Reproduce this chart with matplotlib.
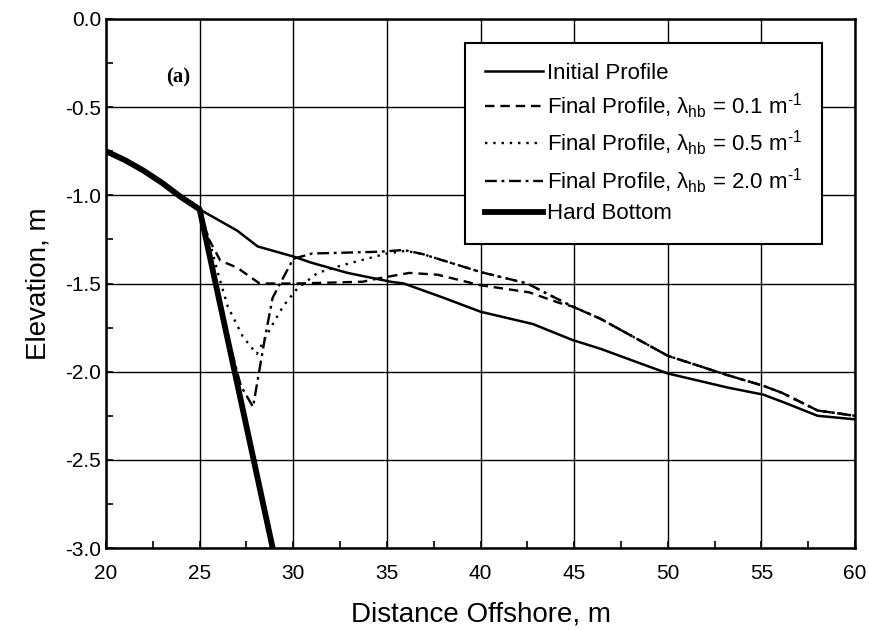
import matplotlib
matplotlib.use('Agg')
import matplotlib.pyplot as plt
from matplotlib.ticker import MultipleLocator

# profile data (distance offshore m, elevation m)
x_init = [20, 21, 22, 23, 24, 25, 27.0, 28.1, 30.1, 30.9, 32.9, 35.2, 35.9, 38.0, 40.0,
          42.8, 44.9, 46.4, 50.0, 53.2, 55.1, 56.1, 58.0, 60.0]
y_init = [-0.75, -0.80, -0.86, -0.93, -1.01, -1.08, -1.20, -1.29, -1.35, -1.38, -1.44, -1.49,
          -1.50, -1.58, -1.66, -1.73, -1.82, -1.87, -2.01, -2.09, -2.13, -2.17, -2.25, -2.27]

x_f01 = [25.0, 25.45, 26.1, 27.0, 28.2, 30.2, 33.7, 34.6, 36.2, 37.7, 40.0, 42.6, 44.2, 44.9,
         46.4, 50.0, 53.2, 55.1, 56.1, 58.0, 60.0]
y_f01 = [-1.08, -1.24, -1.37, -1.41, -1.50, -1.50, -1.49, -1.47, -1.44, -1.45, -1.51, -1.55,
         -1.61, -1.63, -1.70, -1.91, -2.02, -2.08, -2.12, -2.22, -2.25]

x_f05 = [25.0, 25.5, 26.0, 26.5, 27.3, 28.05, 28.8, 29.45, 30.2, 31.3, 32.5, 33.2, 35.0, 36.0,
         36.9, 40.0, 42.5, 43.5, 44.9, 46.4, 50.0, 53.2, 55.1, 56.1, 58.0, 60.0]
y_f05 = [-1.08, -1.25, -1.45, -1.63, -1.80, -1.90, -1.75, -1.63, -1.53, -1.44, -1.40, -1.38,
         -1.33, -1.315, -1.333, -1.435, -1.50, -1.555, -1.63, -1.70, -1.91, -2.02, -2.08, -2.12,
         -2.22, -2.25]

x_f20 = [25.0, 25.5, 26.0, 26.5, 27.2, 27.85, 28.5, 28.9, 30.0, 31.0, 34.6, 35.9, 36.9, 40.0,
         42.5, 43.5, 44.9, 46.4, 50.0, 53.2, 55.1, 56.1, 58.0, 60.0]
y_f20 = [-1.08, -1.30, -1.55, -1.80, -2.08, -2.20, -1.80, -1.58, -1.36, -1.33, -1.32, -1.31,
         -1.333, -1.435, -1.50, -1.555, -1.63, -1.70, -1.91, -2.02, -2.08, -2.12, -2.22, -2.25]

x_hard = [20, 21, 22, 23, 24, 25, 28.9]
y_hard = [-0.75, -0.80, -0.86, -0.93, -1.01, -1.08, -3.0]

plt.rcParams['font.family'] = ['Liberation Sans', 'DejaVu Sans']
plt.rcParams['mathtext.fontset'] = 'custom'
plt.rcParams['mathtext.rm'] = 'Liberation Sans'
plt.rcParams['mathtext.it'] = 'Liberation Sans'

fig = plt.figure(figsize=(8.69, 6.30), dpi=100)
ax = fig.add_axes([0.122, 0.130, 0.862, 0.840])

ax.plot(x_init, y_init, color='black', lw=1.8, label='Initial Profile')
ax.plot(x_f01, y_f01, color='black', lw=1.7, ls=(0, (4, 2.5)),
        label=r'Final Profile, $\lambda_{hb}$ = 0.1 m$^{\text{-}1}$')
ax.plot(x_f05, y_f05, color='black', lw=1.7, ls=(0, (1, 2.5)),
        label=r'Final Profile, $\lambda_{hb}$ = 0.5 m$^{\text{-}1}$')
ax.plot(x_f20, y_f20, color='black', lw=1.7, ls=(0, (5, 2, 1.2, 2)),
        label=r'Final Profile, $\lambda_{hb}$ = 2.0 m$^{\text{-}1}$')
ax.plot(x_hard, y_hard, color='black', lw=4.2, label='Hard Bottom')

ax.set_xlim(20, 60)
ax.set_ylim(-3.0, 0.0)
ax.xaxis.set_major_locator(MultipleLocator(5))
ax.xaxis.set_minor_locator(MultipleLocator(2.5))
ax.yaxis.set_major_locator(MultipleLocator(0.5))
ax.yaxis.set_minor_locator(MultipleLocator(0.25))
ax.yaxis.set_major_formatter(plt.FormatStrFormatter('%.1f'))
ax.grid(True, which='major', color='black', lw=1.0)
ax.tick_params(which='both', direction='in', labelsize=15, length=5, width=1.2)
ax.tick_params(axis='x', pad=11.5)
for s in ax.spines.values():
    s.set_linewidth(1.8)

ax.set_xlabel('Distance Offshore, m', fontsize=20, labelpad=13)
ax.set_ylabel('Elevation, m', fontsize=20, labelpad=10)

ax.text(23.85, -0.33, '(a)', fontsize=15, fontweight='bold', family='Liberation Serif',
        ha='center', va='center')

leg = ax.legend(loc='upper right', bbox_to_anchor=(0.956, 0.955), fontsize=16,
                fancybox=False, framealpha=1, edgecolor='black', handlelength=2.6,
                handletextpad=0.2, labelspacing=0.35, borderpad=0.9, borderaxespad=0)
leg.get_frame().set_linewidth(1.5)

fig.savefig('out.png', dpi=100)
